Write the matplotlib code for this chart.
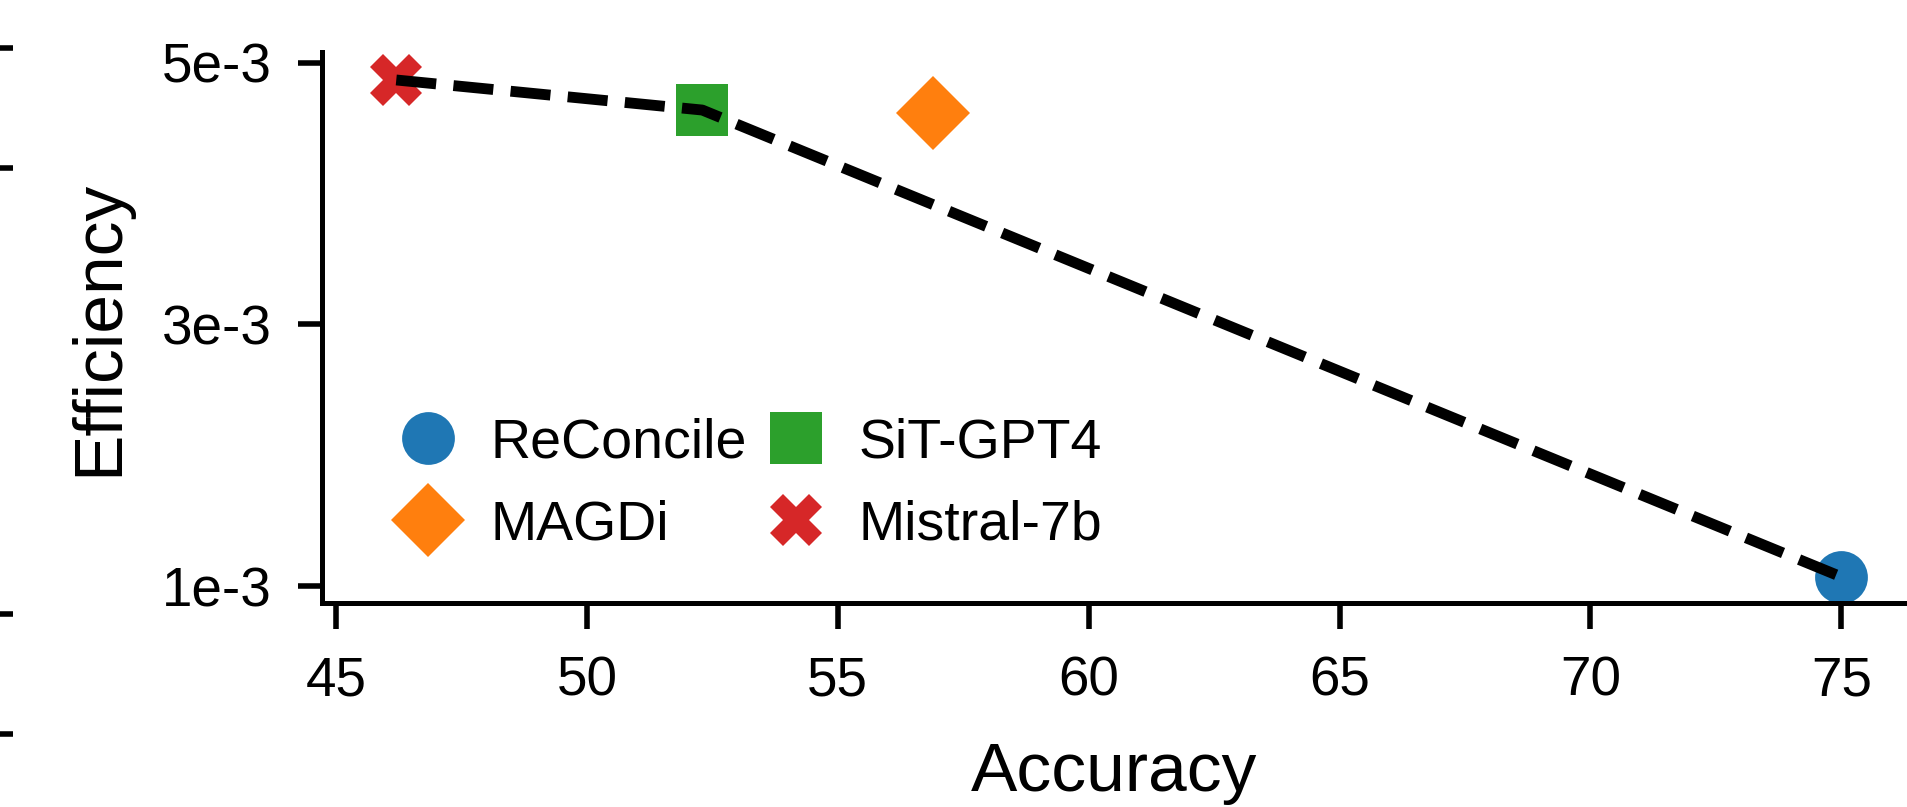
import matplotlib
matplotlib.use("Agg")
import matplotlib.pyplot as plt
from matplotlib.lines import Line2D

# ---- data ----
methods = ["ReConcile", "MAGDi", "SiT-GPT4", "Mistral-7b"]
accuracy = [75.0, 56.9, 52.3, 46.2]
efficiency = [1.07e-3, 4.615e-3, 4.64e-3, 4.87e-3]
marker_shapes = ["o", "D", "s", "X"]
colors = ["#1f77b4", "#ff7f0e", "#2ca02c", "#d62728"]
frontier = ["Mistral-7b", "SiT-GPT4", "ReConcile"]
xticks = [45, 50, 55, 60, 65, 70, 75]
yticks = [1e-3, 3e-3, 5e-3]
ytick_labels = ["1e-3", "3e-3", "5e-3"]

plt.rcParams["font.family"] = ["Liberation Sans", "DejaVu Sans"]

W, H, DPI = 1907, 807, 100
fig = plt.figure(figsize=(W / DPI, H / DPI), dpi=DPI)
fig.patch.set_facecolor("white")

ax = fig.add_axes([322 / W, 1 - 603 / H, (W - 322) / W, (603 - 52) / H])

for m, x, y, mk, c in zip(methods, accuracy, efficiency, marker_shapes, colors):
    ax.plot([x], [y], marker=mk, markersize=38, color=c, markeredgewidth=0,
            linestyle="none", zorder=2, clip_on=False)

fx = [accuracy[methods.index(m)] for m in frontier]
fy = [efficiency[methods.index(m)] for m in frontier]
ax.plot(fx, fy, color="black", linestyle="--", linewidth=7.8, zorder=3,
        dash_capstyle="butt", clip_on=False)

ax.set_xlim(44.72, 76.31)
ax.set_ylim(0.870e-3, 5.084e-3)
ax.set_xticks(xticks)
ax.set_xticklabels([str(t) for t in xticks])
ax.set_yticks(yticks)
ax.set_yticklabels(ytick_labels)

for s in ["top", "right"]:
    ax.spines[s].set_visible(False)
for s in ["left", "bottom"]:
    ax.spines[s].set_linewidth(3.6)

ax.tick_params(axis="both", width=4, labelsize=39.5, colors="black")
ax.tick_params(axis="x", length=19, pad=19)
ax.tick_params(axis="y", length=17, pad=19.4)

ax.set_xlabel("Accuracy", fontsize=50)
ax.set_ylabel("Efficiency", fontsize=50)
ax.xaxis.set_label_coords(0.5, -0.25)
ax.yaxis.set_label_coords(-0.1205, 0.5)

handles = [Line2D([0], [0], marker=mk, color=c, markersize=38, markeredgewidth=0,
                  linestyle="none") for mk, c in zip(marker_shapes, colors)]
leg = ax.legend(handles, methods, ncol=2, frameon=False, fontsize=40,
                loc="upper left", bbox_to_anchor=(400 / W, 1 - 417 / H),
                bbox_transform=fig.transFigure, borderpad=0, borderaxespad=0,
                handlelength=1.0, handletextpad=0.63, columnspacing=0.38,
                labelspacing=0.55)

# stray tick marks at the left edge (partial neighbouring axis)
ax0 = fig.add_axes([13 / W, 0, 0.0005, 1])
ax0.set_ylim(H, 0)
ax0.set_yticks([48, 168, 614, 734])
ax0.set_yticklabels([])
ax0.set_xticks([])
for s in ax0.spines.values():
    s.set_visible(False)
ax0.tick_params(axis="y", length=9.4, width=4)
ax0.patch.set_visible(False)

fig.savefig("out.png", dpi=DPI)
